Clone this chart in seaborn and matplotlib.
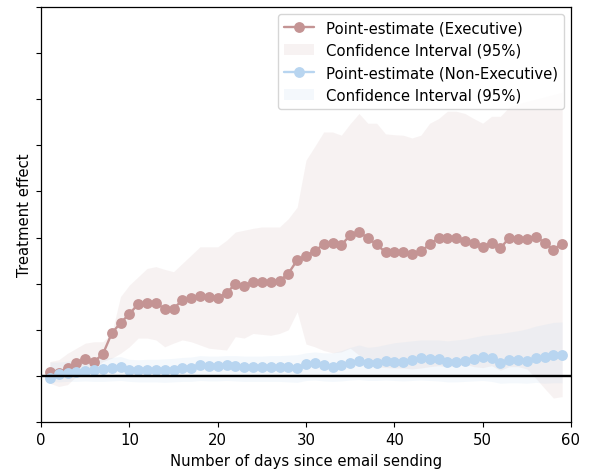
import numpy as np
import pandas as pd
import matplotlib
matplotlib.use("Agg")
import matplotlib.pyplot as plt
import seaborn as sns

# Days since the email was sent
days = list(range(1, 60))

# Executive group: point estimate and 95% confidence bounds
exec_est = [0.09, 0.06, 0.17, 0.29, 0.36, 0.31, 0.47, 0.92, 1.15, 1.34,
            1.56, 1.57, 1.57, 1.46, 1.46, 1.64, 1.69, 1.73, 1.72, 1.69,
            1.79, 2.00, 1.96, 2.04, 2.03, 2.03, 2.06, 2.22, 2.51, 2.60,
            2.71, 2.85, 2.89, 2.84, 3.05, 3.12, 2.99, 2.85, 2.68, 2.68,
            2.68, 2.64, 2.70, 2.85, 2.99, 2.99, 2.99, 2.93, 2.89, 2.80,
            2.89, 2.77, 2.99, 2.97, 2.96, 3.02, 2.89, 2.74, 2.87]
exec_lo = [-0.16, -0.23, -0.19, -0.01, 0.09, 0.17, 0.31, 0.38, 0.49, 0.63,
           0.82, 0.82, 0.78, 0.63, 0.71, 0.78, 0.74, 0.67, 0.60, 0.58,
           0.56, 0.85, 0.82, 0.92, 0.90, 0.88, 0.92, 1.00, 1.39, 0.69,
           0.63, 0.55, 0.50, 0.52, 0.60, 0.45, 0.35, 0.20, 0.18, 0.17,
           0.17, 0.15, 0.17, 0.20, 0.22, 0.20, 0.22, 0.25, 0.20, 0.18,
           0.22, 0.12, 0.20, 0.20, 0.15, -0.05, -0.27, -0.48, -0.45]
exec_hi = [0.31, 0.35, 0.49, 0.60, 0.71, 0.74, 0.74, 0.92, 1.72, 1.97,
           2.15, 2.33, 2.37, 2.31, 2.26, 2.44, 2.62, 2.80, 2.80, 2.80,
           2.94, 3.12, 3.16, 3.20, 3.23, 3.23, 3.23, 3.41, 3.66, 4.68,
           4.98, 5.29, 5.29, 5.22, 5.47, 5.69, 5.48, 5.48, 5.25, 5.23,
           5.22, 5.16, 5.22, 5.48, 5.58, 5.74, 5.74, 5.69, 5.58, 5.48,
           5.63, 5.63, 5.83, 5.90, 5.95, 6.00, 6.05, 6.10, 6.15]

# Non-executive group: point estimate and 95% confidence bounds
nonexec_est = [-0.04, 0.04, 0.06, 0.09, 0.11, 0.12, 0.14, 0.17, 0.20, 0.13,
               0.12, 0.12, 0.12, 0.13, 0.13, 0.17, 0.18, 0.24, 0.22, 0.21,
               0.23, 0.22, 0.20, 0.20, 0.20, 0.20, 0.20, 0.19, 0.17, 0.25,
               0.27, 0.23, 0.20, 0.24, 0.29, 0.32, 0.29, 0.29, 0.32, 0.31,
               0.30, 0.35, 0.38, 0.36, 0.36, 0.31, 0.31, 0.32, 0.36, 0.40,
               0.38, 0.29, 0.34, 0.34, 0.32, 0.38, 0.40, 0.45, 0.45]
nonexec_lo = [-0.12, -0.13, -0.12, -0.12, -0.11, -0.12, -0.12, -0.11, -0.10, -0.12,
              -0.13, -0.13, -0.13, -0.14, -0.13, -0.12, -0.12, -0.10, -0.11, -0.11,
              -0.10, -0.11, -0.12, -0.12, -0.12, -0.12, -0.12, -0.13, -0.14, -0.10,
              -0.09, -0.11, -0.12, -0.11, -0.09, -0.08, -0.10, -0.10, -0.09, -0.10,
              -0.11, -0.10, -0.09, -0.10, -0.11, -0.13, -0.13, -0.12, -0.11, -0.10,
              -0.12, -0.16, -0.15, -0.15, -0.16, -0.14, -0.16, -0.15, -0.15]
nonexec_hi = [0.30, 0.30, 0.32, 0.35, 0.38, 0.39, 0.39, 0.40, 0.42, 0.36,
              0.35, 0.36, 0.36, 0.37, 0.38, 0.40, 0.41, 0.44, 0.43, 0.43,
              0.44, 0.44, 0.43, 0.43, 0.43, 0.44, 0.44, 0.45, 0.46, 0.50,
              0.52, 0.50, 0.50, 0.55, 0.62, 0.67, 0.62, 0.64, 0.68, 0.72,
              0.74, 0.76, 0.78, 0.78, 0.78, 0.76, 0.78, 0.80, 0.84, 0.88,
              0.90, 0.92, 0.95, 0.98, 1.02, 1.08, 1.12, 1.16, 1.17]

legend_labels = ["Point-estimate (Executive)", "Confidence Interval (95%)",
                 "Point-estimate (Non-Executive)", "Confidence Interval (95%)"]
x_label = "Number of days since email sending"
y_label = "Treatment effect"
x_ticks = [0, 10, 20, 30, 40, 50, 60]

exec_color = "#c49494"
nonexec_color = "#b8d5f0"
FS = 10.7

sns.set_style("ticks")
plt.rcParams["font.family"] = ["DejaVu Sans"]
plt.rcParams.update({
    "text.color": "black",
    "axes.labelcolor": "black",
    "xtick.color": "black",
    "ytick.color": "black",
    "axes.edgecolor": "black",
})

df = pd.DataFrame({
    "day": days * 2,
    "effect": exec_est + nonexec_est,
    "group": ["Executive"] * len(days) + ["Non-Executive"] * len(days),
})

fig = plt.figure(figsize=(5.9, 4.77), dpi=100)
ax = fig.add_axes([41 / 590, 54 / 477, 530 / 590, 415 / 477])

sns.lineplot(data=df[df.group == "Executive"], x="day", y="effect",
             color=exec_color, marker="o", markersize=7.8, mew=0, lw=1.7,
             ax=ax, zorder=3)
line_exec = ax.lines[-1]
band_exec = ax.fill_between(days, exec_lo, exec_hi, color="#bc8f8f",
                            alpha=0.11, lw=0, zorder=1)
sns.lineplot(data=df[df.group == "Non-Executive"], x="day", y="effect",
             color=nonexec_color, marker="o", markersize=7.8, mew=0, lw=1.7,
             ax=ax, zorder=3)
line_non = ax.lines[-1]
band_non = ax.fill_between(days, nonexec_lo, nonexec_hi, color=nonexec_color,
                           alpha=0.15, lw=0, zorder=1)

ax.axhline(0, color="black", lw=1.7, zorder=4)

ax.set_xlim(0, 60)
ax.set_ylim(-1, 8)
ax.set_xticks(x_ticks)
ax.set_yticks(range(-1, 9))
ax.set_yticklabels([])
ax.tick_params(labelsize=FS, length=3.8, colors="black")
ax.set_xlabel(x_label, fontsize=FS, color="black")
ax.set_ylabel(y_label, fontsize=FS, color="black", labelpad=-1)
for s in ax.spines.values():
    s.set_linewidth(0.9)
    s.set_color("black")

leg = ax.legend(handles=[line_exec, band_exec, line_non, band_non],
                labels=legend_labels, loc="upper right", fontsize=FS,
                framealpha=0.8, borderaxespad=0.5)
for t in leg.get_texts():
    t.set_color("black")

fig.savefig("out.png", dpi=100)
